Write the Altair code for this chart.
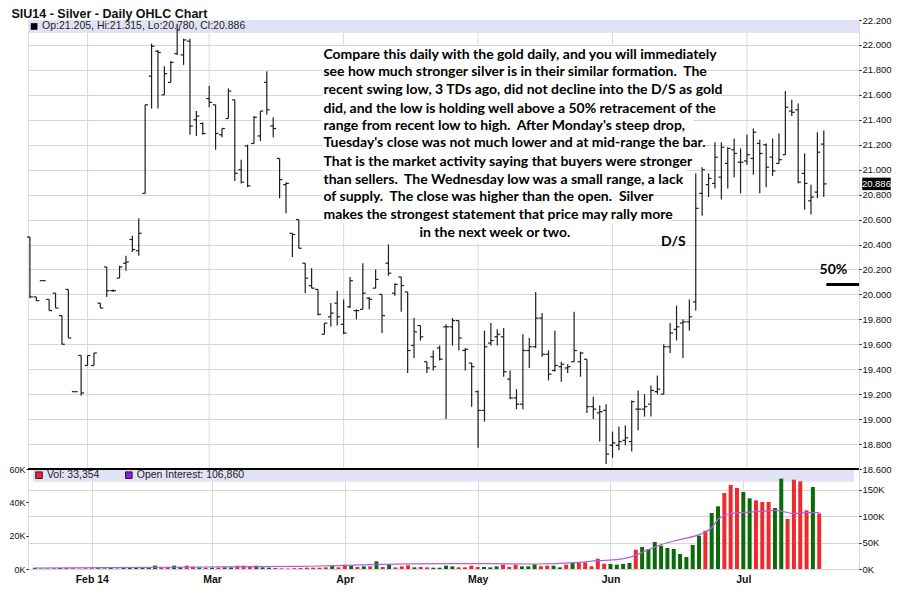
import altair as alt
import pandas as pd

# ---------------- data ----------------
# trading-day index 0..124 (Jan 21 2014 .. Jul 2014)
opens = [20.46, 19.98, 20.11, 19.96, 20.01, 19.83, 20.04, 19.22, 19.51, 19.43,
         19.43, 19.93, 20.22, 20.03, 20.13, 20.25, 20.44, 20.35, 20.81, 21.75,
         21.95, 21.60, 21.70, 21.93, 21.92, 22.03, 21.40, 21.37, 21.57, 21.52,
         21.28, 21.41, 21.56, 21.00, 21.19, 21.21, 21.27, 21.70, 21.35, 21.09,
         20.88, 20.49, 20.60, 20.25, 20.07, 20.04, 19.68, 19.82, 19.93, 19.76,
         19.90, 19.87, 19.88, 19.97, 20.05, 20.00, 20.25, 20.01, 20.14, 20.02,
         19.59, 19.75, 19.46, 19.50, 19.57, 19.74, 19.74, 19.79, 19.55, 19.45,
         19.22, 19.07, 19.61, 19.66, 19.66, 19.32, 19.17, 19.12, 19.55, 19.58,
         19.81, 19.52, 19.39, 19.42, 19.41, 19.46, 19.46, 19.48, 19.10, 19.05,
         19.07, 18.79, 18.79, 18.83, 18.82, 19.08, 19.08, 19.12, 19.22, 19.20,
         19.58, 19.72, 19.77, 19.78, 19.94, 20.81, 20.88, 20.89, 20.94, 21.05,
         21.16, 21.06, 21.07, 21.09, 21.21, 21.20, 21.10, 21.05, 21.12, 21.47,
         21.48, 20.97, 20.75, 20.82, 21.205]
highs = [20.46, 19.98, 20.11, 19.96, 20.01, 19.83, 20.04, 19.22, 19.51, 19.51,
         19.53, 19.93, 20.22, 20.04, 20.23, 20.31, 20.47, 20.61, 21.52, 22.01,
         21.96, 21.83, 21.87, 22.17, 22.05, 22.05, 21.47, 21.38, 21.67, 21.52,
         21.33, 21.65, 21.56, 21.08, 21.20, 21.43, 21.47, 21.79, 21.42, 21.09,
         20.90, 20.49, 20.60, 20.25, 20.21, 20.04, 19.77, 19.93, 20.03, 19.96,
         20.14, 19.88, 20.25, 19.98, 20.20, 20.00, 20.40, 20.09, 20.14, 20.02,
         19.81, 19.75, 19.46, 19.55, 19.59, 19.76, 19.81, 19.79, 19.57, 19.45,
         19.23, 19.71, 19.77, 19.72, 19.73, 19.39, 19.24, 19.68, 19.65, 20.02,
         19.85, 19.55, 19.71, 19.46, 19.44, 19.86, 19.54, 19.48, 19.18, 19.11,
         19.12, 18.90, 18.94, 18.95, 19.15, 19.23, 19.20, 19.27, 19.35, 19.60,
         19.77, 19.91, 19.80, 19.96, 20.97, 21.02, 20.97, 21.22, 21.22, 21.18,
         21.25, 21.17, 21.28, 21.33, 21.24, 21.21, 21.25, 21.29, 21.63, 21.56,
         21.53, 21.13, 20.88, 21.30, 21.315]
lows = [19.97, 19.95, 20.11, 19.87, 19.89, 19.60, 19.65, 19.22, 19.19, 19.43,
        19.43, 19.89, 19.98, 20.02, 20.13, 20.19, 20.34, 20.31, 20.81, 21.49,
        21.49, 21.60, 21.70, 21.92, 21.84, 21.28, 21.27, 21.28, 21.50, 21.16,
        21.26, 21.41, 20.91, 20.89, 20.86, 21.21, 21.23, 21.44, 21.26, 20.77,
        20.65, 20.30, 20.37, 20.01, 20.05, 19.83, 19.68, 19.74, 19.75, 19.68,
        19.89, 19.80, 19.88, 19.88, 20.05, 19.69, 20.15, 19.99, 19.86, 19.37,
        19.49, 19.63, 19.37, 19.39, 19.47, 19.00, 19.59, 19.55, 19.39, 19.10,
        18.77, 18.98, 19.59, 19.59, 19.34, 19.16, 19.08, 19.08, 19.41, 19.57,
        19.50, 19.31, 19.38, 19.30, 19.37, 19.46, 19.34, 19.05, 19.00, 18.82,
        18.64, 18.69, 18.75, 18.79, 18.74, 18.91, 19.02, 19.02, 19.20, 19.20,
        19.53, 19.63, 19.49, 19.71, 19.87, 20.63, 20.78, 20.85, 20.76, 20.85,
        20.94, 20.81, 21.04, 20.96, 20.81, 20.86, 20.95, 21.05, 21.12, 21.43,
        20.89, 20.68, 20.64, 20.77, 20.78]
closes = [19.98, 19.95, 20.11, 19.87, 19.89, 19.60, 19.65, 19.22, 19.21, 19.51,
          19.53, 19.89, 20.03, 20.03, 20.22, 20.26, 20.36, 20.49, 21.52, 21.99,
          21.94, 21.77, 21.86, 22.12, 22.04, 21.35, 21.43, 21.29, 21.54, 21.29,
          21.33, 21.63, 20.97, 20.90, 20.87, 21.42, 21.47, 21.48, 21.33, 20.92,
          20.89, 20.48, 20.37, 20.13, 20.05, 19.84, 19.77, 19.85, 19.82, 19.69,
          20.11, 19.87, 20.01, 19.96, 20.12, 19.83, 20.17, 20.08, 20.07, 19.55,
          19.70, 19.66, 19.41, 19.42, 19.48, 19.74, 19.79, 19.65, 19.56, 19.42,
          19.07, 19.58, 19.63, 19.68, 19.38, 19.17, 19.12, 19.55, 19.58, 19.81,
          19.52, 19.36, 19.43, 19.44, 19.42, 19.55, 19.53, 19.10, 19.08, 19.06,
          18.72, 18.81, 18.82, 18.85, 19.14, 19.08, 19.10, 19.23, 19.24, 19.58,
          19.69, 19.74, 19.78, 19.82, 20.69, 21.00, 20.93, 21.10, 21.18, 21.17,
          21.13, 21.06, 21.12, 21.30, 21.13, 21.02, 20.99, 21.08, 21.50, 21.46,
          20.90, 20.89, 20.78, 21.14, 20.886]
volume_k = [0.8, 0.4, 0.3, 0.5, 0.6, 0.6, 0.4, 0.3, 0.5, 0.4,
            0.5, 0.4, 1.2, 0.3, 0.6, 0.8, 1.2, 1.2, 1.2, 2.0,
            1.0, 1.2, 2.0, 1.2, 2.0, 1.4, 1.0, 0.8, 0.8, 0.8,
            1.0, 1.0, 2.0, 2.0, 1.2, 2.0, 1.0, 0.8, 0.6, 0.4,
            0.3, 0.5, 0.6, 0.8, 0.8, 0.8, 1.0, 2.0, 1.0, 2.6,
            2.0, 1.2, 1.6, 1.6, 4.6, 1.2, 2.6, 1.0, 1.6, 2.2,
            1.0, 1.2, 1.0, 0.8, 0.8, 2.0, 1.6, 1.0, 1.0, 2.0,
            1.2, 1.2, 1.0, 1.6, 2.6, 1.2, 2.6, 1.6, 1.6, 2.8,
            1.6, 2.0, 2.0, 1.0, 2.6, 3.6, 3.6, 4.0, 1.6, 6.2,
            3.2, 3.0, 2.6, 3.0, 3.6, 11.6, 13.2, 12.0, 16.2, 14.0,
            12.6, 12.0, 9.0, 7.2, 14.4, 20.0, 23.0, 33.6, 37.6, 45.6,
            50.4, 48.6, 46.2, 42.4, 41.2, 40.2, 40.2, 36.6, 54.2, 30.0,
            53.6, 52.6, 35.2, 49.2, 33.354]
oi_idx = [0, 11, 27, 42, 48, 53, 66, 71, 79, 86, 89, 92, 94, 97, 99, 102,
          105, 107, 108, 110, 113, 117, 118, 120, 122, 124]
oi_k = [1.9, 2.5, 3.8, 5.0, 6.3, 8.2, 10.0, 10.0, 9.5, 12.5, 15.8, 17.7, 22.0,
        36.7, 46.0, 55.7, 65.0, 78.0, 93.7, 105.0, 107.6, 110.8, 109.5, 105.0,
        106.5, 106.86]
month_idx = [9, 28, 49, 70, 91, 112]
month_labels = ["Feb 14", "Mar", "Apr", "May", "Jun", "Jul"]
price_ticks = [18.6, 18.8, 19.0, 19.2, 19.4, 19.6, 19.8, 20.0, 20.2, 20.4,
               20.6, 20.8, 21.0, 21.2, 21.4, 21.6, 21.8, 22.0, 22.2]
vol_ticks = [0, 20, 40, 60]
oi_ticks = [0, 50, 100, 150]

note_lines = [
    "Compare this daily with the gold daily, and you will immediately",
    "see how much stronger silver is in their similar formation.  The",
    "recent swing low, 3 TDs ago, did not decline into the D/S as gold",
    "did, and the low is holding well above a 50% retracement of the",
    "range from recent low to high.  After Monday's steep drop,",
    "Tuesday's close was not much lower and at mid-range the bar.",
    "That is the market activity saying that buyers were stronger",
    "than sellers.  The Wednesday low was a small range, a lack",
    "of supply.  The close was higher than the open.  Silver",
    "makes the strongest statement that price may rally more",
    "in the next week or two.",
]
note_y = [21.92, 21.78, 21.64, 21.49, 21.35, 21.21, 21.06, 20.92, 20.78, 20.64, 20.49]
note_x0 = [45.6] * 10 + [60.6]
note_x1 = [107.5, 105.5, 106.7, 106.7, 103.6, 105.2, 102.5, 101.9, 95.9, 100.0, 84.1]

last_close = 20.886

# ---------------- tables ----------------
n = len(closes)
prev = [closes[0]] + closes[:-1]
df = pd.DataFrame({"i": list(range(n)), "o": opens, "h": highs, "l": lows,
                   "c": closes, "vol": volume_k,
                   "dir": ["up" if c >= p else "down" for c, p in zip(closes, prev)]})
oi_df = pd.DataFrame({"i": oi_idx, "oi": oi_k})
notes = pd.DataFrame({"x0": note_x0, "x1": note_x1, "y": note_y,
                      "t": [s.replace("  ", " \u00a0") for s in note_lines]})
months = pd.DataFrame({"i": month_idx, "m": month_labels})

XD = [-0.3, 129.5]
W, H1, H2 = 831, 449, 100
BAR = "#1e1e1e"
BAND = "#e2e2f6"
GRID = "#d6d6d6"
VGRID = "#d9d9e4"
FONT = "Liberation Sans"
NOTE_FONT = "Lato"

xs = alt.Scale(domain=XD, nice=False, zero=False)
ps = alt.Scale(domain=[18.6, 22.2], nice=False, zero=False)

y_price_axis = alt.Axis(orient="right", values=price_ticks, format=".3f", grid=True,
                        gridColor=GRID, tickSize=2, labelPadding=1, labelFontSize=9.5,
                        labelFont=FONT, labelColor="#111", tickColor="#000",
                        domain=False, title=None)

def X(field):
    return alt.X(field, scale=xs, axis=None)

def Y(field):
    return alt.Y(field, scale=ps, axis=y_price_axis)

vgrid = alt.Chart(months).mark_rule(color=VGRID, strokeWidth=1).encode(x=X("i:Q"))

band = alt.Chart(pd.DataFrame({"x0": [XD[0]], "x1": [XD[1]], "y0": [22.2], "y1": [22.095]})).mark_rect(
    color=BAND).encode(x=X("x0:Q"), x2="x1:Q", y=Y("y0:Q"), y2="y1:Q")

note_bg = alt.Chart(notes).transform_calculate(
    ya="datum.y + 0.0715", yb="datum.y - 0.0715").mark_rect(color="white").encode(
    x=X("x0:Q"), x2="x1:Q", y=Y("ya:Q"), y2="yb:Q")

hl = alt.Chart(df).mark_rule(color=BAR, strokeWidth=1.2).encode(
    x=X("i:Q"), y=Y("l:Q"), y2="h:Q")
otick = alt.Chart(df).transform_calculate(xl="datum.i - 0.45").mark_rule(
    color=BAR, strokeWidth=1.2).encode(x=X("xl:Q"), x2="i:Q", y=Y("o:Q"))
ctick = alt.Chart(df).transform_calculate(xr="datum.i + 0.45").mark_rule(
    color=BAR, strokeWidth=1.2).encode(x=X("i:Q"), x2="xr:Q", y=Y("c:Q"))

note_txt = alt.Chart(notes).transform_calculate(xt="datum.x0 + 0.25").mark_text(
    align="left", baseline="middle", font=NOTE_FONT, fontSize=14, fontWeight="bold",
    color="#000").encode(x=X("xt:Q"), y=Y("y:Q"), text="t:N")

legend_main = pd.DataFrame({"x": [0.65], "xt": [1.9], "y": [22.148],
                            "t": ["Op:21.205, Hi:21.315, Lo:20.780, Cl:20.886"]})
sq_main = alt.Chart(legend_main).mark_square(size=44, color="#000", opacity=1).encode(
    x=X("x:Q"), y=Y("y:Q"))
lt_main = alt.Chart(legend_main).mark_text(align="left", baseline="middle", font=FONT,
                                           fontSize=10.5, color="#222").encode(
    x=X("xt:Q"), y=Y("y:Q"), text="t:N")

labels_df = pd.DataFrame({"x": [100.5, 125.5], "y": [20.42, 20.195], "t": ["D/S", "50%"]})
lab = alt.Chart(labels_df).mark_text(align="center", baseline="middle", font=NOTE_FONT,
                                     fontSize=14, fontWeight="bold", color="#000").encode(
    x=X("x:Q"), y=Y("y:Q"), text="t:N")
fifty = alt.Chart(pd.DataFrame({"x0": [124.4], "x1": [XD[1]], "y": [20.08]})).mark_rule(
    color="#000", strokeWidth=3).encode(x=X("x0:Q"), x2="x1:Q", y=Y("y:Q"))

cur = pd.DataFrame({"x0": [130.0], "x1": [134.45], "xm": [132.22], "y": [last_close],
                    "t": [f"{last_close:.3f}"]})
cur_box = alt.Chart(cur).transform_calculate(ya="datum.y + 0.05", yb="datum.y - 0.05").mark_rect(
    color="#000").encode(x=X("x0:Q"), x2="x1:Q", y=Y("ya:Q"), y2="yb:Q")
cur_txt = alt.Chart(cur).mark_text(align="center", baseline="middle", font=FONT,
                                   fontSize=9.5, color="#fff").encode(
    x=X("xm:Q"), y=Y("y:Q"), text="t:N")

main = alt.layer(vgrid, band, note_bg, hl, otick, ctick, note_txt, sq_main, lt_main, lab, fifty,
                 cur_box, cur_txt).properties(width=W, height=H1)

# ---------------- volume panel ----------------
vs = alt.Scale(domain=[0, 60], nice=False, zero=True)
ois = alt.Scale(domain=[0, 189.2], nice=False, zero=True)
lab_expr = " : ".join(f"datum.value == {v} ? '{t}'" for v, t in zip(month_idx, month_labels)) + " : ''"
x_vol_axis = alt.Axis(values=month_idx, labelExpr=lab_expr, grid=True, gridColor=VGRID,
                      ticks=False, domain=False, labelFont=FONT, labelFontWeight="bold",
                      labelFontSize=10.5, labelColor="#111", labelPadding=5, labelFlush=False,
                      title=None)
vol_axis = alt.Axis(orient="left", values=vol_ticks, labelExpr="datum.value + 'K'", grid=False,
                    tickSize=2, labelPadding=1, labelFontSize=9, labelFont=FONT,
                    labelColor="#111", tickColor="#000", domain=False, title=None)
oi_axis = alt.Axis(orient="right", values=oi_ticks, labelExpr="datum.value + 'K'", grid=True,
                   gridColor=GRID, tickSize=2, labelPadding=1, labelFontSize=9.5, labelFont=FONT,
                   labelColor="#111", tickColor="#000", domain=False, title=None)

def VX(field):
    return alt.X(field, scale=xs, axis=x_vol_axis)

def VY(field, axis=None):
    return alt.Y(field, scale=vs, axis=axis)

vband = alt.Chart(pd.DataFrame({"x0": [XD[0]], "x1": [XD[1]], "y0": [60], "y1": [52.4]})).mark_rect(
    color=BAND).encode(x=VX("x0:Q"), x2="x1:Q", y=VY("y0:Q"), y2="y1:Q")
vbars = alt.Chart(df).mark_bar(size=4).encode(
    x=VX("i:Q"), y=VY("vol:Q", vol_axis),
    color=alt.Color("dir:N", scale=alt.Scale(domain=["up", "down"], range=["#0b6b0b", "#ee2a2e"]),
                    legend=None))
oi_line = alt.Chart(oi_df).mark_line(color="#b05ee8", strokeWidth=1.2, interpolate="monotone").encode(
    x=VX("i:Q"), y=alt.Y("oi:Q", scale=ois, axis=oi_axis))
sep = alt.Chart(pd.DataFrame({"y": [60]})).mark_rule(color="#000", strokeWidth=2).encode(
    y=VY("y:Q"))
leg_v = pd.DataFrame({"x": [0.65, 14.85], "xt": [1.9, 16.1], "y": [56.3, 56.3],
                      "k": ["vol", "oi"], "t": ["Vol: 33,354", "Open Interest: 106,860"]})
sq_v = alt.Chart(leg_v).mark_square(size=44, stroke="#000", strokeWidth=0.8, opacity=1).encode(
    x=VX("x:Q"), y=VY("y:Q"),
    fill=alt.Fill("k:N", scale=alt.Scale(domain=["vol", "oi"], range=["#ee2a2e", "#8a1ee0"]),
                  legend=None))
lt_v = alt.Chart(leg_v).mark_text(align="left", baseline="middle", font=FONT, fontSize=10.5,
                                  color="#222").encode(x=VX("xt:Q"), y=VY("y:Q"), text="t:N")

vol = alt.layer(vband, vbars, oi_line, sep, sq_v, lt_v).resolve_scale(
    y="independent", fill="independent", color="independent").properties(width=W, height=H2)

chart = alt.VConcatChart(
    vconcat=[main, vol], spacing=0, padding=0, bounds="flush",
    title=alt.TitleParams("SIU14 - Silver - Daily OHLC Chart", anchor="start", font=FONT,
                          fontSize=12.5, fontWeight="bold", color="#111", dx=3, offset=-6),
).configure_view(stroke="#000", strokeWidth=1).configure(background="white")

chart.save("out.html", embed_options={"renderer": "svg", "actions": False})
